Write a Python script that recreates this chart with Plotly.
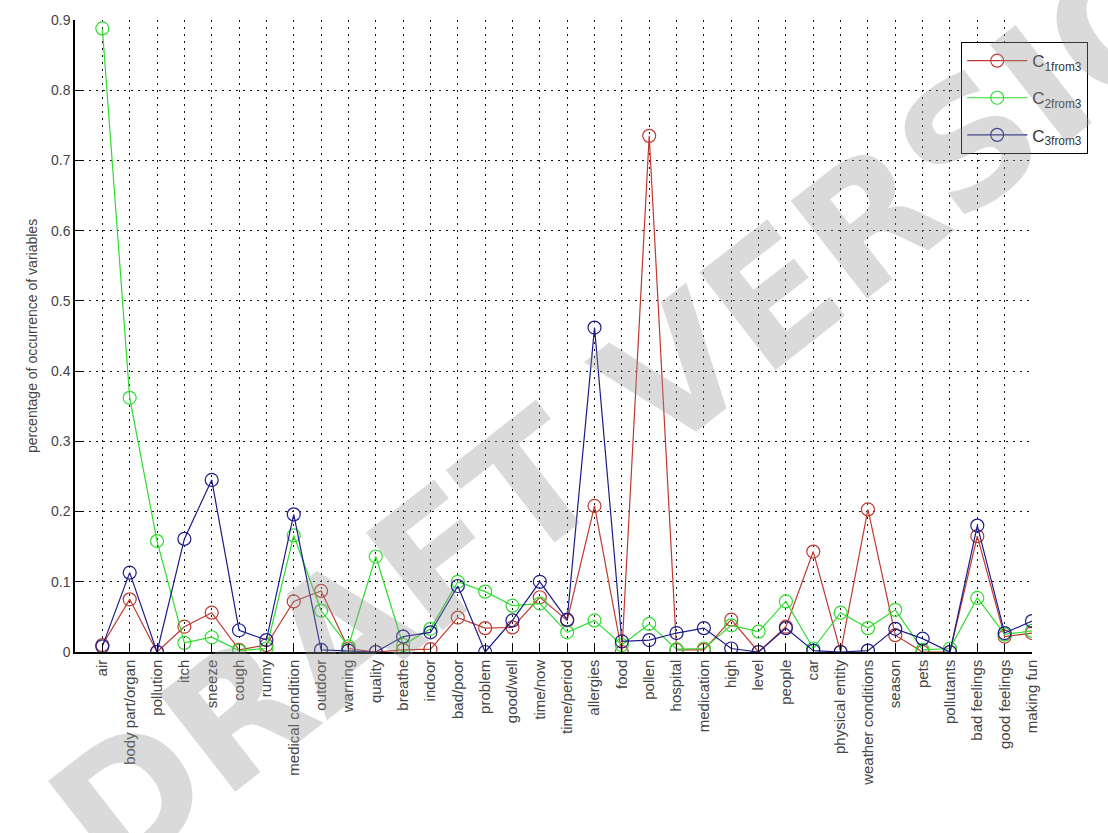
import plotly.graph_objects as go

categories = ["air", "body part/organ", "pollution", "itch", "sneeze", "cough", "runny",
              "medical condition", "outdoor", "warning", "quality", "breathe", "indoor",
              "bad/poor", "problem", "good/well", "time/now", "time/period", "allergies",
              "food", "pollen", "hospital", "medication", "high", "level", "people", "car",
              "physical entity", "weather conditions", "season", "pets", "pollutants",
              "bad feelings", "good feelings", "making fun"]

c1 = [0.010, 0.075, 0.000, 0.036, 0.056, 0.003, 0.010, 0.072, 0.087, 0.005, 0.000, 0.003,
      0.004, 0.049, 0.034, 0.035, 0.078, 0.045, 0.208, 0.000, 0.735, 0.003, 0.003, 0.046,
      0.000, 0.036, 0.143, 0.000, 0.203, 0.024, 0.000, 0.000, 0.165, 0.022, 0.027]
c2 = [0.888, 0.362, 0.158, 0.013, 0.021, 0.002, 0.005, 0.166, 0.059, 0.008, 0.136, 0.010,
      0.033, 0.100, 0.086, 0.066, 0.069, 0.028, 0.045, 0.010, 0.040, 0.004, 0.005, 0.038,
      0.029, 0.072, 0.005, 0.056, 0.034, 0.060, 0.003, 0.005, 0.077, 0.025, 0.030]
c3 = [0.008, 0.113, 0.000, 0.161, 0.245, 0.031, 0.017, 0.196, 0.003, 0.002, 0.000, 0.022,
      0.028, 0.094, 0.000, 0.045, 0.100, 0.046, 0.462, 0.015, 0.017, 0.027, 0.034, 0.005,
      0.000, 0.034, 0.002, 0.000, 0.002, 0.033, 0.019, 0.000, 0.180, 0.027, 0.044]

series = [
    ("C<sub>1from3</sub>", c1, "#c0392f"),
    ("C<sub>2from3</sub>", c2, "#2edc2e"),
    ("C<sub>3from3</sub>", c3, "#1c1c8a"),
]

x = list(range(1, len(categories) + 1))

fig = go.Figure()
for i, (name, vals, col) in enumerate(series):
    fig.add_trace(go.Scatter(
        x=x, y=vals, name=name, mode="lines+markers", legendgroup=f"g{i}",
        line=dict(color=col, width=1.2),
        marker=dict(symbol="circle-open", size=13, color=col, line=dict(width=1.2, color=col)),
    ))

font_family = "Liberation Sans, Arial, sans-serif"
grid_dash = "2px,5px"

fig.update_layout(
    width=1108, height=833,
    margin=dict(l=75, r=76, t=18, b=181),
    paper_bgcolor="white", plot_bgcolor="white",
    font=dict(family=font_family, size=14, color="#333333"),
    xaxis=dict(
        range=[0, 35], tickmode="array", tickvals=x, ticktext=categories,
        tickangle=-90, showgrid=True, gridcolor="#111111", griddash=grid_dash, gridwidth=1,
        zeroline=False, showline=True, linecolor="black", linewidth=1.5,
        ticks="inside", ticklen=8, tickcolor="black",
        tickfont=dict(size=15, color="#444444"),
    ),
    yaxis=dict(
        range=[0, 0.9], tickmode="array",
        tickvals=[0, 0.1, 0.2, 0.3, 0.4, 0.5, 0.6, 0.7, 0.8, 0.9],
        ticktext=["0", "0.1", "0.2", "0.3", "0.4", "0.5", "0.6", "0.7", "0.8", "0.9"],
        showgrid=True, gridcolor="#111111", griddash=grid_dash, gridwidth=1,
        zeroline=False, showline=True, linecolor="black", linewidth=1.5,
        ticks="inside", ticklen=8, tickcolor="black",
        tickfont=dict(size=14, color="#444444"),
        title=dict(text="percentage of occurrence of variables", font=dict(size=14, color="#444444"),
                   standoff=10),
    ),
    legend=dict(
        x=0.926, y=0.965, xanchor="left", yanchor="top",
        bgcolor="white", bordercolor="black", borderwidth=1,
        font=dict(size=17, color="#333333"),
        tracegroupgap=12,
        itemwidth=60,
    ),
    showlegend=True,
)

fig.add_annotation(
    text="<b>DRAFT VERSION</b>", xref="paper", yref="paper",
    x=0.637, y=0.452, showarrow=False, textangle=-38,
    font=dict(size=170, family="DejaVu Sans, sans-serif", color="rgba(150,150,150,0.35)"),
)

fig.write_html("out.html")
